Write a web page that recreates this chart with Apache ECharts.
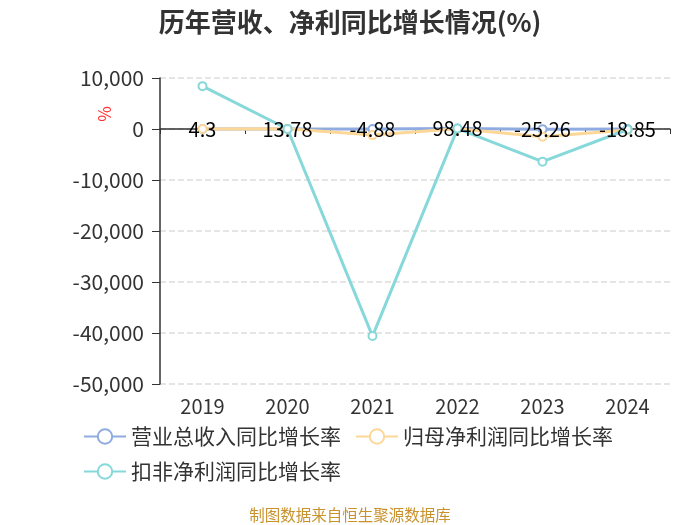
<!DOCTYPE html>
<html><head><meta charset="utf-8">
<script src="https://cdn.jsdelivr.net/npm/echarts@6/dist/echarts.min.js"></script>
<style>html,body{margin:0;padding:0;background:#fff}#c{width:700px;height:525px}</style>
</head><body><div id="c"></div>
<script>
var years = ['2019','2020','2021','2022','2023','2024'];
var revenueGrowth = [4.3, 13.78, -4.88, 98.48, -25.26, -18.85];
var netProfitGrowth = [20, 30, -1200, 60, -1500, -200];
var deductedProfitGrowth = [8400, 0, -40600, 80, -6400, -100];
var yTicks = {min: -50000, max: 10000, interval: 10000};

var FONT = '"Noto Sans CJK SC", "Noto Sans", sans-serif';
var chart = echarts.init(document.getElementById('c'));
function lineSeries(name, data, color, withLabel) {
  return {
    name: name, type: 'line', data: data,
    symbol: 'emptyCircle', symbolSize: 8,
    lineStyle: {width: 3, color: color},
    itemStyle: {color: color, borderWidth: 2},
    label: withLabel ? {show: true, position: 'inside', color: '#000', fontSize: 20, fontFamily: FONT,
      formatter: function(p){ return revenueGrowth[p.dataIndex]; }} : {show: false}
  };
}
chart.setOption({
  animation: false,
  textStyle: {fontFamily: FONT},
  title: {text: '历年营收、净利同比增长情况(%)', left: 'center', top: 4,
    textStyle: {fontSize: 26, fontWeight: 'bold', color: '#333', fontFamily: FONT}},
  legend: {left: 78, top: 421, width: 580, itemWidth: 42, itemHeight: 18, itemGap: 14,
    textStyle: {fontSize: 21, color: '#333', fontFamily: FONT},
    data: ['营业总收入同比增长率','归母净利润同比增长率','扣非净利润同比增长率']},
  grid: {left: 160, right: 30, top: 78, bottom: 141},
  xAxis: [{
    type: 'category', data: years, boundaryGap: true,
    axisLine: {onZero: true, lineStyle: {color: '#333', width: 1.5}},
    axisTick: {show: true, lineStyle: {color: '#333'}},
    axisLabel: {show: false}
  }, {
    type: 'category', data: years, position: 'bottom', boundaryGap: true,
    axisLine: {show: false}, axisTick: {show: false},
    axisLabel: {show: true, fontSize: 20, color: '#333', margin: 12, fontFamily: FONT}
  }],
  yAxis: {
    type: 'value', min: yTicks.min, max: yTicks.max, interval: yTicks.interval,
    axisLine: {show: true, lineStyle: {color: '#333', width: 1.5}},
    axisTick: {show: true, length: 8, lineStyle: {color: '#333'}},
    axisLabel: {fontSize: 21, color: '#333', fontFamily: FONT, margin: 16,
      formatter: function(v){ return v.toLocaleString('en-US'); }},
    splitLine: {show: true, lineStyle: {type: 'dashed', color: '#ddd', width: 1.5}}
  },
  graphic: [{
    type: 'text', left: 96, top: 106, rotation: Math.PI/2,
    style: {text: '%', fill: '#f33', fontSize: 17, fontFamily: FONT}
  }, {
    type: 'text', left: 'center', top: 507,
    style: {text: '制图数据来自恒生聚源数据库', fill: '#c9922c', fontSize: 15.5, fontFamily: FONT}
  }],
  series: [
    lineSeries('营业总收入同比增长率', revenueGrowth, '#8fabdf', true),
    lineSeries('归母净利润同比增长率', netProfitGrowth, '#fdd798', false),
    lineSeries('扣非净利润同比增长率', deductedProfitGrowth, '#86d8da', false)
  ]
});
</script></body></html>
